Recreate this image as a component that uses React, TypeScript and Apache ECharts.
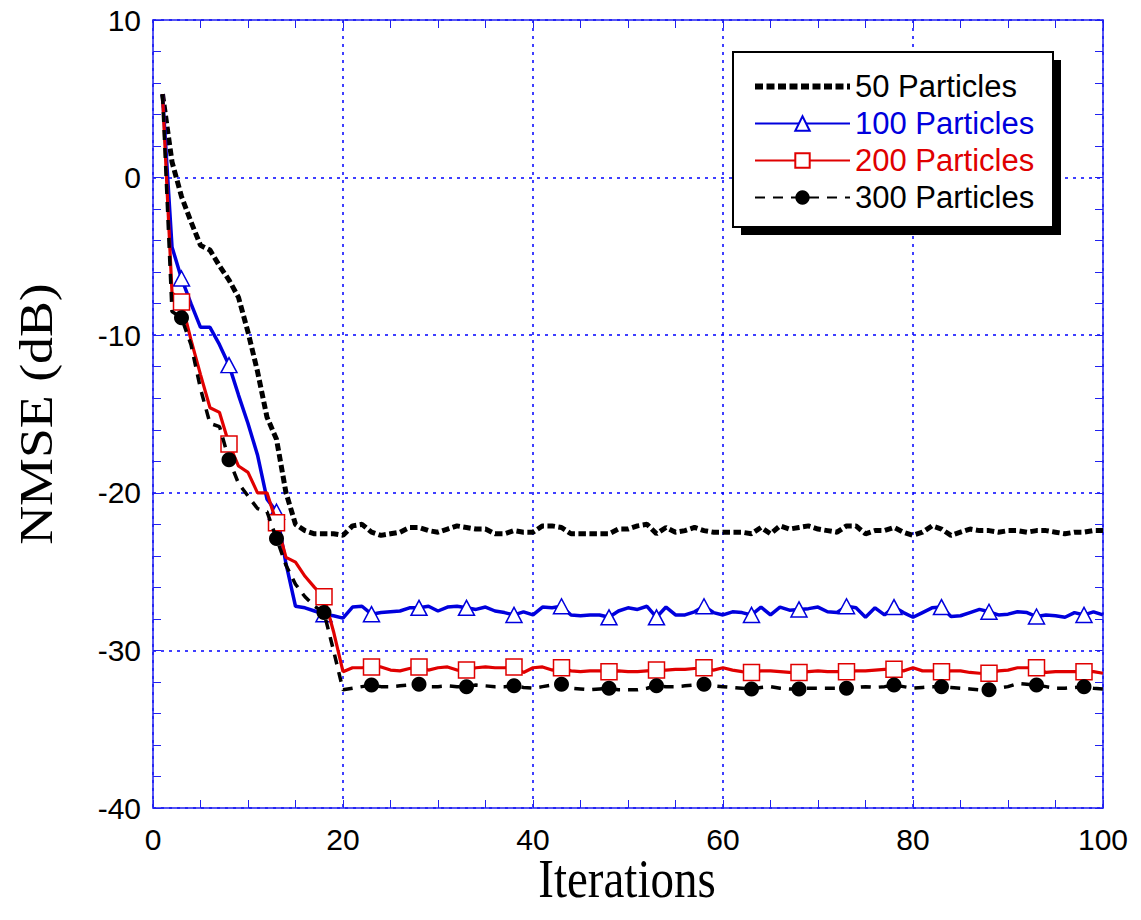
import React, { useEffect, useRef } from "react";
import * as echarts from "echarts";

const seriesNames = ["50 Particles", "100 Particles", "200 Particles", "300 Particles"];
const xTicks = [0, 20, 40, 60, 80, 100];
const yTicks = [-40, -30, -20, -10, 0, 10];
const markerIters = [3, 8, 13, 18, 23, 28, 33, 38, 43, 48, 53, 58, 63, 68, 73, 78, 83, 88, 93, 98];

// NMSE (dB) for iterations 1..100
const nmse50 = [
  5.3, 1.0, -1.2, -2.8, -4.3, -4.6, -5.6, -6.5, -7.6, -9.8,
  -12.3, -15.2, -16.6, -20.0, -22.0, -22.4, -22.6, -22.6, -22.6, -22.7,
  -22.1, -22.0, -22.5, -22.7, -22.6, -22.5, -22.2, -22.2, -22.4, -22.5,
  -22.3, -22.1, -22.2, -22.3, -22.3, -22.6, -22.6, -22.4, -22.5, -22.5,
  -22.1, -22.1, -22.2, -22.6, -22.6, -22.6, -22.6, -22.6, -22.3, -22.3,
  -22.1, -22.0, -22.6, -22.2, -22.5, -22.4, -22.2, -22.4, -22.5, -22.5,
  -22.5, -22.5, -22.6, -22.2, -22.6, -22.1, -22.3, -22.2, -22.1, -22.3,
  -22.4, -22.5, -22.1, -22.1, -22.6, -22.4, -22.4, -22.2, -22.5, -22.7,
  -22.5, -22.1, -22.3, -22.7, -22.5, -22.3, -22.4, -22.4, -22.5, -22.4,
  -22.4, -22.5, -22.4, -22.4, -22.5, -22.6, -22.5, -22.5, -22.4, -22.4,
];
const nmse100 = [
  5.3, -4.4, -6.4, -8.0, -9.5, -9.5, -10.6, -11.9, -13.8, -15.6,
  -17.6, -20.4, -21.2, -24.5, -27.2, -27.3, -27.5, -27.7, -27.8, -27.95,
  -27.25, -27.2, -27.7, -27.6, -27.55, -27.5, -27.3, -27.3, -27.2, -27.5,
  -27.25, -27.2, -27.3, -27.4, -27.25, -27.5, -27.6, -27.75, -27.55, -27.75,
  -27.25, -27.3, -27.2, -27.75, -27.8, -27.75, -27.75, -27.9, -27.5, -27.3,
  -27.4, -27.2, -27.9, -27.25, -27.75, -27.75, -27.55, -27.2, -27.6, -27.75,
  -27.55, -27.6, -27.75, -27.25, -27.75, -27.25, -27.45, -27.4, -27.35, -27.25,
  -27.55, -27.6, -27.2, -27.3, -27.9, -27.3, -27.75, -27.25, -27.6, -27.9,
  -27.6, -27.3, -27.25, -27.85, -27.8, -27.6, -27.4, -27.55, -27.75, -27.7,
  -27.55, -27.6, -27.85, -27.75, -27.8, -27.9, -27.6, -27.75, -27.55, -27.75,
];
const nmse200 = [
  5.3, -7.3, -7.9, -10.3, -12.5, -14.6, -14.9, -16.9, -18.3, -18.7,
  -20.0, -20.0, -21.9, -24.1, -24.4, -25.3, -26.0, -26.6, -28.8, -31.35,
  -31.1, -31.1, -31.05, -31.05, -31.25, -31.3, -31.15, -31.05, -31.25, -31.1,
  -31.05, -31.25, -31.25, -31.1, -31.05, -31.1, -31.1, -31.05, -31.4, -31.1,
  -31.05, -31.25, -31.1, -31.3, -31.35, -31.3, -31.3, -31.35, -31.3, -31.35,
  -31.35, -31.3, -31.25, -31.25, -31.2, -31.2, -31.15, -31.1, -31.25, -31.1,
  -31.25, -31.35, -31.4, -31.3, -31.3, -31.35, -31.4, -31.4, -31.35, -31.3,
  -31.35, -31.35, -31.35, -31.3, -31.3, -31.25, -31.2, -31.2, -31.3, -31.1,
  -31.3, -31.3, -31.35, -31.3, -31.3, -31.4, -31.45, -31.45, -31.3, -31.25,
  -31.1, -31.1, -31.1, -31.4, -31.35, -31.35, -31.35, -31.35, -31.35, -31.45,
];
const nmse300 = [
  5.3, -8.5, -8.9, -10.6, -13.4, -15.6, -15.8, -17.9, -19.4, -20.2,
  -21.0, -21.2, -22.9, -24.6, -25.8, -26.6, -27.2, -27.6, -30.0, -32.5,
  -32.4, -32.3, -32.2, -32.3, -32.3, -32.25, -32.2, -32.15, -32.3, -32.3,
  -32.25, -32.3, -32.3, -32.2, -32.25, -32.3, -32.3, -32.25, -32.35, -32.4,
  -32.3, -32.2, -32.15, -32.4, -32.45, -32.5, -32.45, -32.4, -32.5, -32.5,
  -32.5, -32.4, -32.25, -32.3, -32.3, -32.25, -32.2, -32.15, -32.25, -32.3,
  -32.35, -32.4, -32.45, -32.35, -32.3, -32.4, -32.45, -32.45, -32.4, -32.4,
  -32.4, -32.4, -32.4, -32.35, -32.3, -32.35, -32.3, -32.2, -32.3, -32.4,
  -32.35, -32.3, -32.3, -32.35, -32.4, -32.45, -32.5, -32.5, -32.4, -32.3,
  -32.1, -32.15, -32.2, -32.3, -32.4, -32.4, -32.35, -32.3, -32.4, -32.45,
];

const BLUE = "#0000dd";
const RED = "#e00000";
const FRAME = "#2020f0";
const GRIDC = "#0000ff";
const SANS = "'Liberation Sans', Arial, sans-serif";
const SERIF = "'Liberation Serif', 'Times New Roman', serif";

function toData(values: number[], withMarkers: boolean) {
  return values.map((v, i) => {
    const it = i + 1;
    if (withMarkers && markerIters.includes(it)) return { value: [it, v] };
    return { value: [it, v], symbol: "none" };
  });
}

export default function App() {
  const ref = useRef<HTMLDivElement>(null);
  useEffect(() => {
    if (!ref.current) return;
    const chart = echarts.init(ref.current, undefined, { renderer: "svg" });

    const frameAxis = {
      axisLine: { show: true, onZero: false, lineStyle: { color: FRAME, width: 1.5 } },
      axisTick: { show: true, inside: true, length: 8, lineStyle: { color: FRAME, width: 1 } },
    };
    const labelStyle = { color: "#000", fontSize: 30, fontFamily: SANS };

    const option: any = {
      animation: false,
      backgroundColor: "#ffffff",
      grid: { left: 153, right: 38, top: 20, bottom: 112, containLabel: false },
      xAxis: [
        {
          type: "value", position: "bottom", min: xTicks[0], max: xTicks[xTicks.length - 1], interval: 20,
          ...frameAxis,
          minorTick: { show: true, splitNumber: 4, length: 8, lineStyle: { color: FRAME, width: 1 } },
          axisLabel: { ...labelStyle, margin: 16 },
          splitLine: { show: true, lineStyle: { color: [GRIDC], width: 1.5, type: [3, 5] } },
        },
        {
          type: "value", position: "top", min: xTicks[0], max: xTicks[xTicks.length - 1], interval: 20,
          ...frameAxis,
          minorTick: { show: true, splitNumber: 4, length: 8, lineStyle: { color: FRAME, width: 1 } },
          axisLabel: { show: false },
          splitLine: { show: false },
        },
      ],
      yAxis: [
        {
          type: "value", position: "left", min: yTicks[0], max: yTicks[yTicks.length - 1], interval: 10,
          ...frameAxis,
          minorTick: { show: true, splitNumber: 5, length: 8, lineStyle: { color: FRAME, width: 1 } },
          axisLabel: { ...labelStyle, margin: 12 },
          splitLine: { show: true, lineStyle: { color: [GRIDC], width: 1.5, type: [3, 5] } },
        },
        {
          type: "value", position: "right", min: yTicks[0], max: yTicks[yTicks.length - 1], interval: 10,
          ...frameAxis,
          minorTick: { show: true, splitNumber: 5, length: 8, lineStyle: { color: FRAME, width: 1 } },
          axisLabel: { show: false },
          splitLine: { show: false },
        },
      ],
      legend: {
        orient: "vertical",
        left: 752,
        top: 71,
        padding: 0,
        itemWidth: 95,
        itemHeight: 18,
        itemGap: 6,
        z: 20,
        selectedMode: false,
        textStyle: { fontSize: 31, fontFamily: SANS, lineHeight: 30, color: "#000" },
        data: [
          {
            name: seriesNames[0], textStyle: { color: "#000" }, itemStyle: { opacity: 0 },
            lineStyle: { color: "#000", width: 6, type: [8, 3.5], cap: "butt" },
          },
          { name: seriesNames[1], textStyle: { color: BLUE } },
          { name: seriesNames[2], textStyle: { color: RED } },
          { name: seriesNames[3], textStyle: { color: "#000" } },
        ],
      },
      graphic: [
        { type: "rect", z: 10, shape: { x: 741, y: 60, width: 320, height: 175 }, style: { fill: "#000" } },
        { type: "rect", z: 11, shape: { x: 733, y: 52, width: 320, height: 175 }, style: { fill: "#fff", stroke: "#000", lineWidth: 2 } },
        {
          type: "text", z: 11, x: 36, y: 414, rotation: Math.PI / 2, scaleX: 1.17,
          style: { text: "NMSE (dB)", font: `46px ${SERIF}`, fill: "#000", textAlign: "center", textVerticalAlign: "middle" },
        },
        {
          type: "text", z: 11, x: 627, y: 878, scaleY: 1.19,
          style: { text: "Iterations", font: `47px ${SERIF}`, fill: "#000", textAlign: "center", textVerticalAlign: "middle" },
        },
      ],
      series: [
        {
          name: seriesNames[0], type: "line", color: "#000", z: 3,
          data: toData(nmse50, false), symbol: "none", showAllSymbol: true,
          lineStyle: { color: "#000", width: 5, type: [7.5, 3.5], cap: "butt" },
          emphasis: { disabled: true },
        },
        {
          name: seriesNames[1], type: "line", color: BLUE, z: 4,
          data: toData(nmse100, true), symbol: "triangle", symbolSize: [16, 15], showAllSymbol: true,
          lineStyle: { color: BLUE, width: 3.5 },
          itemStyle: { color: "#fff", borderColor: BLUE, borderWidth: 1.5 },
          emphasis: { disabled: true },
        },
        {
          name: seriesNames[2], type: "line", color: RED, z: 5,
          data: toData(nmse200, true), symbol: "rect", symbolSize: 16, showAllSymbol: true,
          lineStyle: { color: RED, width: 3.2 },
          itemStyle: { color: "#fff", borderColor: RED, borderWidth: 1.5 },
          emphasis: { disabled: true },
        },
        {
          name: seriesNames[3], type: "line", color: "#000", z: 6,
          data: toData(nmse300, true), symbol: "circle", symbolSize: 15, showAllSymbol: true,
          lineStyle: { color: "#000", width: 3.5, type: [10, 8] },
          itemStyle: { color: "#000" },
          emphasis: { disabled: true },
        },
      ],
    };
    chart.setOption(option);
    return () => chart.dispose();
  }, []);

  return (
    <div
      ref={ref}
      style={{ position: "absolute", left: 0, top: 0, width: 1141, height: 920, background: "#fff" }}
    />
  );
}
